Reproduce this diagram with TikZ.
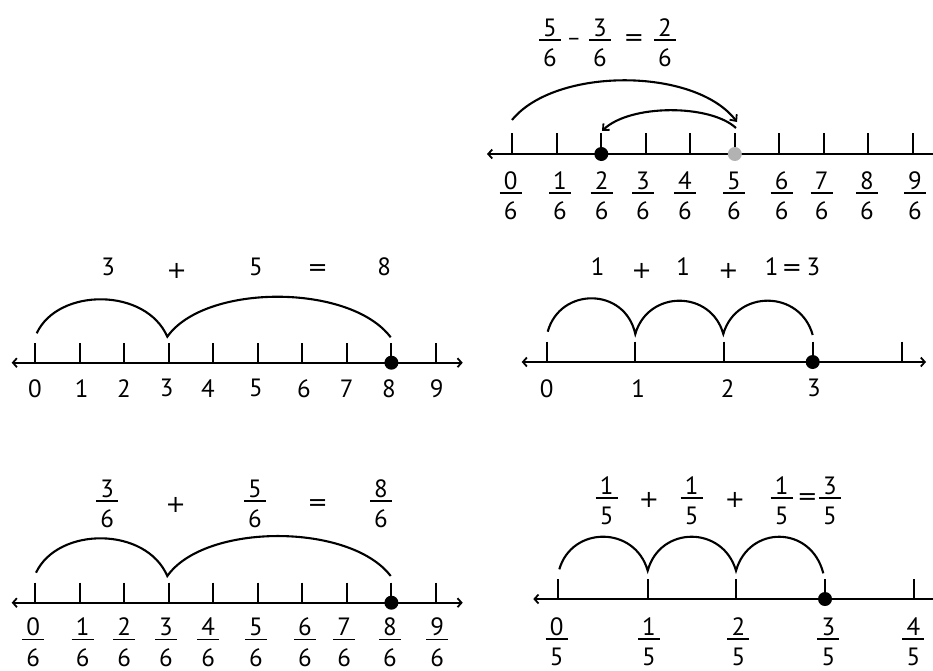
\documentclass[tikz,border=0pt]{standalone}
\usepackage{fontspec}
\setmainfont{PT Sans}
\newfontfamily\opfont{DejaVu Sans}
\usetikzlibrary{arrows.meta}
\tikzset{
  axisline/.style={line width=2.1pt},
  tickmark/.style={line width=2pt},
  jump/.style={line width=2.1pt},
  fbar/.style={line width=1.9pt},
  lbl/.style={inner sep=0pt, font=\fontsize{25}{29}\selectfont},
  opl/.style={inner sep=0pt, font=\opfont\fontsize{24}{28}\selectfont},
  dotb/.style={circle, fill=black, inner sep=0pt, minimum size=14pt},
  dotg/.style={circle, fill=black!30, inner sep=0pt, minimum size=14pt},
  barb/.tip={Straight Barb[length=4pt,width=9pt,line width=1.8pt]},
  jtip/.tip={Straight Barb[length=5pt,width=9pt,line width=1.8pt]},
}
\newcommand\fr[5]{%
  \node[lbl] (#1n) at (#2,#3-12.5) {#4};
  \node[lbl] (#1d) at (#2,#3+18) {#5};
  \draw[fbar] (#2-11,#3) -- (#2+11,#3);}
\begin{document}
\begin{tikzpicture}[x=1pt,y=-1pt]
\useasboundingbox (0,0) rectangle (933,670);

% ---------- top panel: 5/6 - 3/6 = 2/6 ----------
\fr{te1}{550}{40}{5}{6}
\node[lbl, font=\fontsize{22}{26}\selectfont] (tmin) at (574,42) {–};
\fr{te2}{600}{40}{3}{6}
\node[opl] (teq) at (634,40) {=};
\fr{te3}{665}{40}{2}{6}
\draw[axisline, barb-] (487,154) -- (933,154);
\foreach \x in {512.3,556.8,601.3,645.8,690.3,734.8,779.3,823.8,868.3,912.8}
  \draw[tickmark] (\x,133) -- (\x,154);
\foreach \x/\n in {510.7/0,560/1,601.7/2,643/3,685/4,734/5,781.7/6,821.7/7,867/8,915/9}
  {\fr{tl\n}{\x}{193}{\n}{6}}
\node[dotb] (tdot) at (601.3,154) {};
\node[dotg] (tgdot) at (734.8,154) {};
\coordinate (ta1) at (512,120);
\coordinate (ta2) at (737,122);
\coordinate (tb1) at (736,128);
\coordinate (tb2) at (602,131);
\draw[jump,-jtip] (ta1) .. controls (555,67) and (695,67) .. (ta2);
\draw[jump,-jtip] (tb1) .. controls (710,104) and (630,104) .. (tb2);

% ---------- middle left: 3 + 5 = 8 ----------
\node[lbl] (m3) at (108.3,267) {3};
\node[opl] (mplus) at (176.7,270.5) {+};
\node[lbl] (m5) at (256,267) {5};
\node[opl] (meq) at (317.7,270) {=};
\node[lbl] (m8) at (384.3,267) {8};
\draw[axisline, barb-barb] (11.7,362.7) -- (462.7,362.7);
\foreach \x in {35,79.5,124.1,168.6,213.2,257.7,302.3,346.8,391.4,435.9}
  \draw[tickmark] (\x,343) -- (\x,362.7);
\foreach \x/\n in {35/0,81.7/1,124/2,166.7/3,208/4,256/5,304/6,346.7/7,389/8,436.7/9}
  \node[lbl] (ml\n) at (\x,388.3) {\n};
\draw[jump] (36.7,333.3) .. controls (58,287.4) and (146,287.4) .. (167.3,336.7)
            .. controls (205,283.3) and (350,283.3) .. (390.7,337.3);
\node[dotb] (mdot) at (391.4,362.7) {};

% ---------- middle right: 1 + 1 + 1 = 3 ----------
\node[lbl] (r1a) at (597.7,267) {1};
\node[opl] (rp1) at (641.7,270.5) {+};
\node[lbl] (r1b) at (683.3,267) {1};
\node[opl] (rp2) at (728.3,270.5) {+};
\node[lbl] (r1c) at (771.7,267) {1};
\node[opl] (req) at (792,270) {=};
\node[lbl] (r3) at (813.3,267) {3};
\draw[axisline, barb-barb] (521.7,362) -- (926,362);
\foreach \x in {546.7,635.3,724,812.7,901.7}
  \draw[tickmark] (\x,341.7) -- (\x,362);
\foreach \x/\n in {546.7/0,638.3/1,727.7/2,814/3}
  \node[lbl] (rl\n) at (\x,388.3) {\n};
\draw[jump] (547.7,331.7) .. controls (560,286.8) and (625,286.8) .. (635.3,334)
            .. controls (648,289.6) and (711,289.6) .. (723.3,334)
            .. controls (736,289.4) and (800,289.4) .. (812.7,335);
\node[dotb] (rdot) at (812.7,362) {};

% ---------- bottom left: 3/6 + 5/6 = 8/6 ----------
\fr{be1}{107.3}{501}{3}{6}
\node[opl] (bplus) at (175.7,505) {+};
\fr{be2}{255}{501}{5}{6}
\node[opl] (beq) at (317.7,505) {=};
\fr{be3}{381}{501}{8}{6}
\draw[axisline, barb-barb] (11.7,602.7) -- (462.7,602.7);
\foreach \x in {35,79.5,124.1,168.6,213.2,257.7,302.3,346.8,391.4,435.9}
  \draw[tickmark] (\x,582.7) -- (\x,602.7);
\foreach \x/\n in {33.3/0,82.7/1,124.3/2,166/3,208.3/4,256/5,305/6,344.3/7,390/8,437.3/9}
  {\fr{bl\n}{\x}{639.5}{\n}{6}}
\draw[jump] (36,572.7) .. controls (58,526.3) and (146,526.3) .. (167.3,576)
            .. controls (205,522.7) and (350,522.7) .. (390.7,576);
\node[dotb] (bdot) at (391.4,602.7) {};

% ---------- bottom right: 1/5 + 1/5 + 1/5 = 3/5 ----------
\fr{ce1}{606.7}{498.3}{1}{5}
\node[opl] (cp1) at (649,500) {+};
\fr{ce2}{691.7}{498.3}{1}{5}
\node[opl] (cp2) at (735,500) {+};
\fr{ce3}{781.7}{498.3}{1}{5}
\node[opl] (ceq) at (807.5,499) {=};
\fr{ce4}{830}{498.3}{3}{5}
\draw[axisline, barb-] (533.3,599) -- (933,599);
\foreach \x in {558.3,647.7,736,825,914.3}
  \draw[tickmark] (\x,579.3) -- (\x,599);
\foreach \x/\n in {556.7/0,649/1,738.3/2,828.3/3,913.3/4}
  {\fr{cl\n}{\x}{639}{\n}{5}}
\draw[jump] (559.3,569.3) .. controls (572,525.6) and (635,525.6) .. (647.7,570.7)
            .. controls (660,525.4) and (723,525.4) .. (736,570.7)
            .. controls (749,525) and (811,525) .. (823.3,573.3);
\node[dotb] (cdot) at (825,599) {};
\end{tikzpicture}
\end{document}
